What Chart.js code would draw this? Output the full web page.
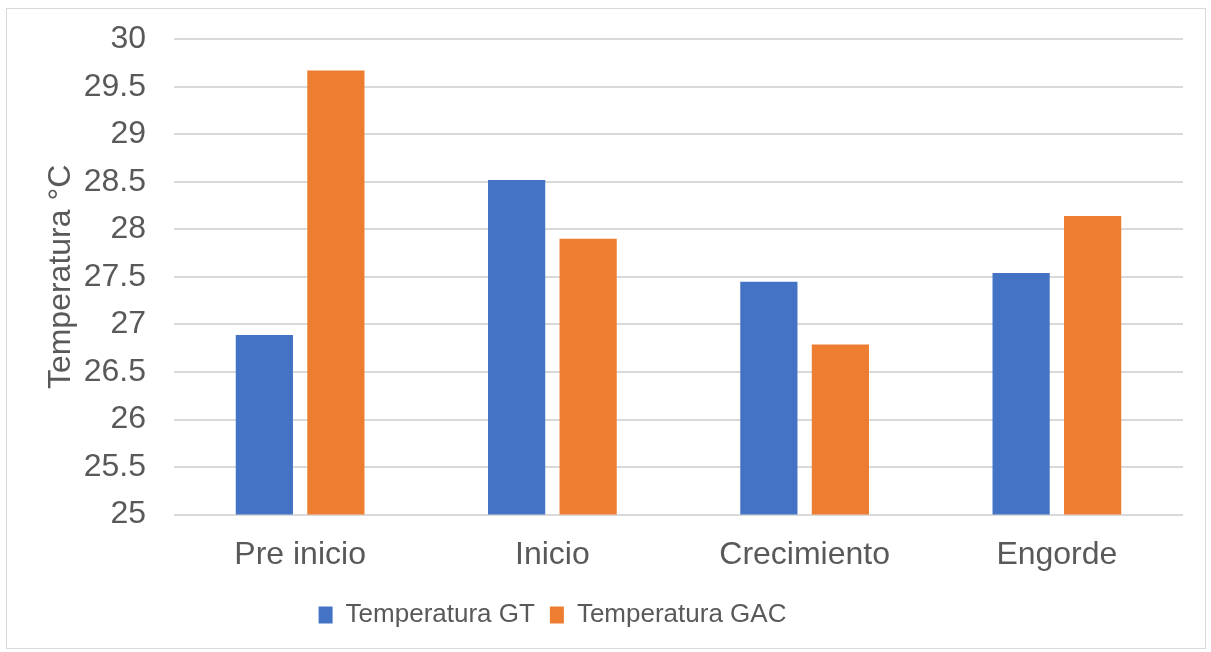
<!DOCTYPE html>
<html>
<head>
<meta charset="utf-8">
<script src="https://cdn.jsdelivr.net/npm/chart.js@4.4.0/dist/chart.umd.min.js"></script>
<style>
  html, body { margin: 0; padding: 0; background: #fff; }
  #frame { position: absolute; left: 6px; top: 8px; width: 1198px; height: 639px; border: 1px solid #d9d9d9; }
  #wrap { position: absolute; left: 0; top: 0; width: 1211px; height: 652px; }
</style>
</head>
<body>
<div id="frame"></div>
<div id="wrap"><canvas id="chart"></canvas></div>
<script>
const categories = ['Pre inicio', 'Inicio', 'Crecimiento', 'Engorde'];
const tempGT = [26.89, 28.52, 27.45, 27.54];
const tempGAC = [29.67, 27.9, 26.79, 28.14];
const yMin = 25, yMax = 30, yStep = 0.5;

const textColor = '#595959';
Chart.defaults.font.family = '"Liberation Sans", Arial, sans-serif';
Chart.defaults.color = textColor;

// legend in the reference sits a bit left of the canvas centre
const shiftLegend = {
    id: 'shiftLegend',
    beforeDraw(chart) {
        const lg = chart.legend;
        if (lg && !lg._shifted) {
            lg.left -= 39;
            lg.right -= 39;
            lg._shifted = true;
        }
    }
};

const ctx = document.getElementById('chart').getContext('2d');
new Chart(ctx, {
    type: 'bar',
    data: {
        labels: categories,
        datasets: [{
            label: 'Temperatura GT',
            data: tempGT,
            backgroundColor: '#4472C4',
            categoryPercentage: 0.567,
            barPercentage: 0.8
        }, {
            label: 'Temperatura GAC',
            data: tempGAC,
            backgroundColor: '#ED7D31',
            categoryPercentage: 0.567,
            barPercentage: 0.8
        }]
    },
    plugins: [shiftLegend],
    options: {
        responsive: true,
        maintainAspectRatio: false,
        animation: false,
        layout: { padding: { top: 10, right: 28, bottom: 14, left: 0 } },
        plugins: {
            tooltip: { enabled: false },
            legend: {
                position: 'bottom',
                labels: {
                    font: { size: 26 },
                    color: textColor,
                    boxWidth: 14,
                    boxHeight: 17,
                    padding: 15
                }
            }
        },
        scales: {
            x: {
                grid: { display: false },
                border: { display: false },
                ticks: { font: { size: 32 }, color: textColor, padding: 13 }
            },
            y: {
                min: yMin,
                max: yMax,
                afterFit: (scale) => { scale.width = 174; },
                ticks: {
                    stepSize: yStep,
                    font: { size: 32, lineHeight: 0.7 },
                    color: textColor,
                    padding: 28,
                    callback: (v) => String(Math.round(v * 10) / 10)
                },
                grid: { color: '#d9d9d9', lineWidth: 2, drawTicks: false },
                border: { display: false },
                title: {
                    display: true,
                    text: 'Temperatura °C',
                    font: { size: 32 },
                    color: textColor,
                    padding: { top: 42, bottom: 0 }
                }
            }
        }
    }
});
</script>
</body>
</html>
